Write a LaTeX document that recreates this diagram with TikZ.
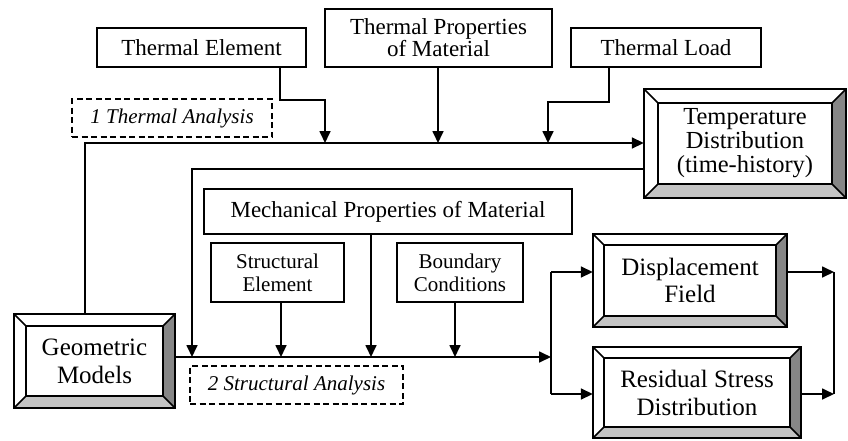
\documentclass[tikz,border=0pt]{standalone}
\usepackage{fontspec}
\setmainfont{Liberation Serif}
\usetikzlibrary{arrows.meta,calc}
\definecolor{bevdark}{HTML}{868686}
\definecolor{bevlight}{HTML}{C4C4C4}
\tikzset{
  ln/.style={line width=1.7pt},
  arr/.style={ln,-{Triangle[length=12pt,width=11pt]}},
  plainbox/.style={draw,ln,inner sep=0pt,align=center,font=\fontsize{23}{20}\selectfont},
  smallbox/.style={draw,ln,inner sep=0pt,align=center,font=\fontsize{21}{23}\selectfont},
  dashbox/.style={draw,line width=1.3pt,dash pattern=on 6pt off 3.5pt,inner sep=0pt,align=center,font=\fontsize{21}{23}\selectfont\itshape},
}
\newcommand\bevbox[8]{%
  \coordinate (#1-a) at (#2,#3);
  \coordinate (#1-c) at (#4,#5);
  \coordinate (#1-ia) at ($(#1-a)+(#6,#6)$);
  \coordinate (#1-ic) at ($(#1-c)+(-#6,-#6)$);
  \fill[white] (#1-a) rectangle (#1-c);
  \fill[bevdark] (#1-c |- #1-a) -- (#1-ic |- #1-ia) -- (#1-ic) -- (#1-c) -- cycle;
  \fill[bevlight] (#1-a |- #1-c) -- (#1-ia |- #1-ic) -- (#1-ic) -- (#1-c) -- cycle;
  \draw[ln] (#1-a) rectangle (#1-c);
  \draw[ln] (#1-ia) rectangle (#1-ic);
  \draw[ln] (#1-a) -- (#1-ia) (#1-c) -- (#1-ic) (#1-a |- #1-c) -- (#1-ia |- #1-ic) (#1-c |- #1-a) -- (#1-ic |- #1-ia);
  \node[inner sep=0pt,align=center,font=#8,minimum width={(#4-#2)*1pt},minimum height={(#5-#3)*1pt}] (#1) at ($(#1-a)!0.5!(#1-c)$) {#7};
}
\begin{document}
\begin{tikzpicture}[x=1pt,y=-1pt]
\useasboundingbox (0,0) rectangle (848,440);
% input boxes
\node[plainbox,minimum width=209pt,minimum height=39pt] (te) at (201.5,47.5) {Thermal Element};
\node[plainbox,minimum width=227pt,minimum height=58pt] (tp) at (438.5,38) {Thermal Properties\\of Material};
\node[plainbox,minimum width=190pt,minimum height=39pt] (tl) at (666,47.5) {Thermal Load};
\node[dashbox,minimum width=200pt,minimum height=38pt] (ta) at (172,118) {1 Thermal Analysis};
\node[plainbox,minimum width=368pt,minimum height=45pt] (mp) at (388,211.5) {Mechanical Properties of Material};
\node[smallbox,minimum width=133pt,minimum height=59pt] (se) at (277.5,272.5) {Structural\\Element};
\node[smallbox,minimum width=126pt,minimum height=59pt] (bc) at (460,272.5) {Boundary\\Conditions};
\node[dashbox,minimum width=213pt,minimum height=38pt] (sa) at (296.5,385) {2 Structural Analysis};
% bevelled boxes
\bevbox{td}{644}{89}{846}{198}{14}{Temperature\\Distribution\\(time-history)}{\fontsize{24.5}{24}\selectfont}
\bevbox{gm}{14}{314}{175}{408}{12}{Geometric\\Models}{\fontsize{25}{28}\selectfont}
\bevbox{df}{593}{234}{787}{327}{11}{Displacement\\Field}{\fontsize{25}{27}\selectfont}
\bevbox{rs}{593}{347}{801}{438}{11}{Residual Stress\\Distribution}{\fontsize{25}{28}\selectfont}
% thermal analysis line
\coordinate (j1) at (325,143);
\coordinate (j2) at (438,143);
\coordinate (j3) at (548,143);
\draw[ln] (gm.north -| 85,0) |- (j1);
\draw[arr] (j1) -- (td.west |- j1);
\draw[arr] (te.south -| 280,0) |- (325,100) -- (j1);
\draw[arr] (tp.south -| j2) -- (j2);
\draw[arr] (tl.south -| 609,0) |- (548,102) -- (j3);
% structural analysis line
\coordinate (k0) at (192,357);
\coordinate (k1) at (281,357);
\coordinate (k2) at (371,357);
\coordinate (k3) at (455,357);
\coordinate (sp) at (551,357);
\draw[arr] (td.west |- 0,169) -| (k0);
\draw[ln] (gm.east |- k0) -- (k0);
\draw[arr] (k0) -- (sp);
\draw[arr] (se.south -| k1) -- (k1);
\draw[arr] (mp.south -| k2) -- (k2);
\draw[arr] (bc.south -| k3) -- (k3);
\coordinate (s1) at (551,272);
\coordinate (s2) at (551,394);
\draw[ln] (s1) -- (s2);
\draw[arr] (s1) -- (df.west |- s1);
\draw[arr] (s2) -- (rs.west |- s2);
\coordinate (r1) at (834,272);
\coordinate (r2) at (834,394);
\draw[ln] (r1) -- (r2);
\draw[arr] (df.east |- r1) -- (r1);
\draw[arr] (rs.east |- r2) -- (r2);
\end{tikzpicture}
\end{document}
